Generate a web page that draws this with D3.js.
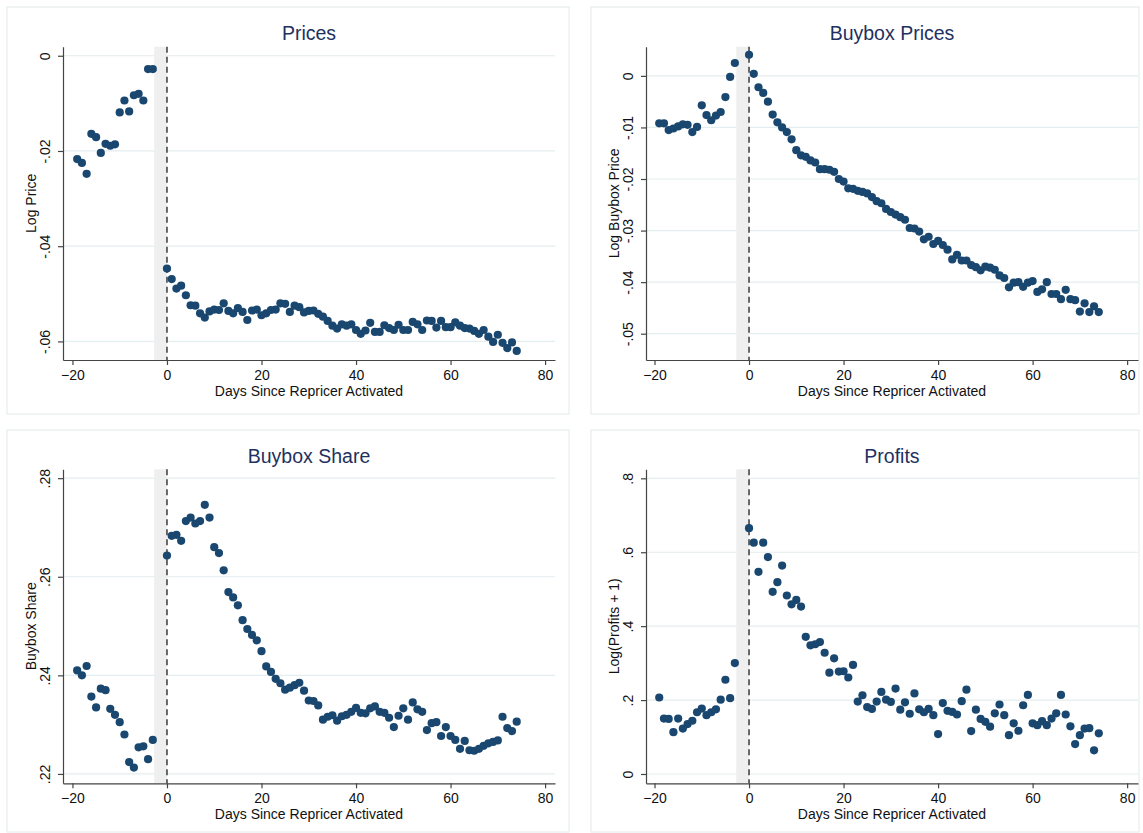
<!DOCTYPE html>
<html>
<head>
<meta charset="utf-8">
<script src="https://cdn.jsdelivr.net/npm/d3@7"></script>
<style>
  body { margin: 0; background: #fff; }
  svg { display: block; font-family: "Liberation Sans", Arial, Helvetica, sans-serif; }
</style>
</head>
<body>
<svg width="1143" height="833"></svg>
<script>
// days relative to repricer activation (days -2 and -1 are not shown)
const preDays = d3.range(-19, -2)
const postDays = d3.range(0, 75)
const days = preDays.concat(postDays)

const xTicks = [-20, 0, 20, 40, 60, 80]

const prices = [
  -0.0217, -0.0225, -0.0248, -0.0164, -0.0171, -0.0204, -0.0185, -0.0189, -0.0186, -0.0119,
  -0.0094, -0.0117, -0.0083, -0.0080, -0.0094, -0.0028, -0.0028,
  -0.0447, -0.0469, -0.0489, -0.0483, -0.0503, -0.0524, -0.0525, -0.0541, -0.0550, -0.0537,
  -0.0533, -0.0534, -0.0520, -0.0536, -0.0541, -0.0530, -0.0538, -0.0555, -0.0535, -0.0533,
  -0.0545, -0.0541, -0.0534, -0.0533, -0.0520, -0.0521, -0.0538, -0.0525, -0.0528, -0.0539,
  -0.0536, -0.0535, -0.0542, -0.0548, -0.0557, -0.0567, -0.0573, -0.0564, -0.0567, -0.0564,
  -0.0576, -0.0584, -0.0577, -0.0561, -0.0580, -0.0580, -0.0566, -0.0572, -0.0576, -0.0565,
  -0.0576, -0.0576, -0.0559, -0.0564, -0.0576, -0.0556, -0.0557, -0.0571, -0.0557, -0.0570,
  -0.0570, -0.0560, -0.0567, -0.0572, -0.0573, -0.0578, -0.0584, -0.0576, -0.0590, -0.0601,
  -0.0586, -0.0603, -0.0614, -0.0602, -0.0620
]

const buyboxPrices = [
  -0.0092, -0.0092, -0.0105, -0.0102, -0.0098, -0.0094, -0.0095, -0.0109, -0.0099, -0.0057,
  -0.0076, -0.0086, -0.0077, -0.0070, -0.0041, -0.0002, 0.0025,
  0.0041, 0.0004, -0.0022, -0.0033, -0.0050, -0.0075, -0.0090, -0.0100, -0.0109, -0.0123,
  -0.0144, -0.0154, -0.0157, -0.0164, -0.0168, -0.0181, -0.0181, -0.0182, -0.0186, -0.0200,
  -0.0205, -0.0218, -0.0219, -0.0223, -0.0225, -0.0228, -0.0235, -0.0243, -0.0247, -0.0258,
  -0.0264, -0.0269, -0.0274, -0.0279, -0.0295, -0.0296, -0.0302, -0.0317, -0.0312, -0.0326,
  -0.0320, -0.0328, -0.0337, -0.0356, -0.0347, -0.0358, -0.0358, -0.0367, -0.0371, -0.0377,
  -0.0370, -0.0372, -0.0376, -0.0387, -0.0392, -0.0410, -0.0401, -0.0400, -0.0409, -0.0401,
  -0.0398, -0.0419, -0.0414, -0.0400, -0.0423, -0.0423, -0.0433, -0.0415, -0.0433, -0.0435,
  -0.0457, -0.0441, -0.0458, -0.0447, -0.0458
]

const buyboxShare = [
  0.2410, 0.2400, 0.2419, 0.2357, 0.2335, 0.2373, 0.2370, 0.2332, 0.2320, 0.2305,
  0.2280, 0.2224, 0.2213, 0.2254, 0.2256, 0.2230, 0.2269,
  0.2643, 0.2683, 0.2685, 0.2673, 0.2713, 0.2720, 0.2708, 0.2713, 0.2746, 0.2720,
  0.2660, 0.2648, 0.2613, 0.2569, 0.2558, 0.2542, 0.2512, 0.2494, 0.2482, 0.2471,
  0.2449, 0.2418, 0.2407, 0.2393, 0.2384, 0.2371, 0.2375, 0.2380, 0.2385, 0.2369,
  0.2349, 0.2348, 0.2339, 0.2310, 0.2316, 0.2319, 0.2308, 0.2317, 0.2320, 0.2326,
  0.2334, 0.2324, 0.2323, 0.2333, 0.2337, 0.2326, 0.2324, 0.2314, 0.2295, 0.2318,
  0.2333, 0.2310, 0.2345, 0.2331, 0.2326, 0.2289, 0.2303, 0.2305, 0.2277, 0.2295,
  0.2277, 0.2269, 0.2251, 0.2267, 0.2248, 0.2247, 0.2251, 0.2257, 0.2262, 0.2265,
  0.2268, 0.2316, 0.2293, 0.2287, 0.2306
]

const profits = [
  0.207, 0.150, 0.149, 0.113, 0.150, 0.123, 0.135, 0.144, 0.167, 0.177,
  0.159, 0.167, 0.175, 0.201, 0.255, 0.205, 0.300,
  0.665, 0.626, 0.547, 0.626, 0.587, 0.493, 0.519, 0.564, 0.483, 0.459,
  0.471, 0.453, 0.371, 0.348, 0.351, 0.357, 0.328, 0.274, 0.313, 0.277,
  0.278, 0.261, 0.295, 0.196, 0.213, 0.181, 0.176, 0.196, 0.222, 0.201,
  0.195, 0.231, 0.174, 0.194, 0.163, 0.218, 0.175, 0.167, 0.176, 0.159,
  0.108, 0.192, 0.171, 0.168, 0.161, 0.197, 0.228, 0.116, 0.174, 0.149,
  0.141, 0.128, 0.164, 0.188, 0.159, 0.105, 0.137, 0.117, 0.186, 0.214,
  0.137, 0.132, 0.143, 0.132, 0.150, 0.164, 0.214, 0.161, 0.129, 0.081,
  0.105, 0.123, 0.124, 0.064, 0.110
]

const titles = ['Prices', 'Buybox Prices', 'Buybox Share', 'Profits']
const yLabels = ['Log Price', 'Log Buybox Price', 'Buybox Share', 'Log(Profits + 1)']
const yTicks = [
  [0, -0.02, -0.04, -0.06],
  [0, -0.01, -0.02, -0.03, -0.04, -0.05],
  [0.22, 0.24, 0.26, 0.28],
  [0, 0.2, 0.4, 0.6, 0.8]
]
const yTickLabels = [
  ['0', '-.02', '-.04', '-.06'],
  ['0', '-.01', '-.02', '-.03', '-.04', '-.05'],
  ['.22', '.24', '.26', '.28'],
  ['0', '.2', '.4', '.6', '.8']
]
const series = [prices, buyboxPrices, buyboxShare, profits]

// layout
const yDomains = [[-0.0639, 0.0019], [-0.0551, 0.00566], [0.2181, 0.2818], [-0.0252, 0.8244]]
const cols = [
  { box: [7, 569], plot: [63, 555], xDomain: [-22, 82.1] },
  { box: [591, 1139], plot: [646, 1138], xDomain: [-21.8, 82.3] }
]
const rows = [
  { box: [7, 414], plot: [46.7, 360] },
  { box: [430, 832], plot: [469.3, 783.3] }
]
const markerColor = '#1a476f'
const titleColor = '#1e3160'

const svg = d3.select('svg')

function drawPanel(i) {
  const col = cols[i % 2], row = rows[Math.floor(i / 2)]
  const g = svg.append('g')

  // panel frame
  g.append('rect')
    .attr('x', col.box[0]).attr('y', row.box[0])
    .attr('width', col.box[1] - col.box[0]).attr('height', row.box[1] - row.box[0])
    .attr('fill', '#fff').attr('stroke', '#e4eaec').attr('stroke-width', 1)

  const x = d3.scaleLinear().domain(col.xDomain).range(col.plot)
  const y = d3.scaleLinear().domain(yDomains[i]).range([row.plot[1], row.plot[0]])

  // grid lines
  g.selectAll('.grid')
    .data(yTicks[i])
    .enter()
    .append('line')
    .attr('x1', col.plot[0]).attr('x2', col.plot[1])
    .attr('y1', (d) => y(d)).attr('y2', (d) => y(d))
    .attr('stroke', '#e4edef').attr('stroke-width', 1.2)

  // shaded band before activation
  g.append('rect')
    .attr('x', x(-2.7)).attr('y', row.plot[0])
    .attr('width', x(0) - x(-2.7)).attr('height', row.plot[1] - row.plot[0])
    .attr('fill', '#efefef')

  // activation line
  g.append('line')
    .attr('x1', x(0)).attr('x2', x(0))
    .attr('y1', row.plot[0]).attr('y2', row.plot[1])
    .attr('stroke', '#3a3a3a').attr('stroke-width', 1.5)
    .attr('stroke-dasharray', '6,4')

  // markers
  g.selectAll('.dot')
    .data(days.map((d, k) => [d, series[i][k]]))
    .enter()
    .append('circle')
    .attr('cx', (d) => x(d[0]))
    .attr('cy', (d) => y(d[1]))
    .attr('r', 4.1)
    .attr('fill', markerColor)

  // x axis
  const xAxis = g.append('g')
    .attr('transform', `translate(0,${row.plot[1]})`)
    .call(d3.axisBottom(x).tickValues(xTicks).tickFormat(d3.format('d')).tickSize(5).tickSizeOuter(0).tickPadding(5))
  xAxis.selectAll('text').style('font-size', '14px').attr('fill', '#111')

  // y axis
  const yAxis = g.append('g')
    .attr('transform', `translate(${col.plot[0]},0)`)
    .call(d3.axisLeft(y).tickValues(yTicks[i]).tickFormat((d, k) => yTickLabels[i][k]).tickSize(5).tickSizeOuter(0))
  yAxis.selectAll('text')
    .attr('x', null).attr('dy', null)
    .attr('transform', 'translate(-13,0) rotate(-90)')
    .style('text-anchor', 'middle')
    .style('font-size', '14px')
    .attr('fill', '#111')

  g.selectAll('.domain, .tick line').attr('stroke', '#444').attr('stroke-width', 1.2)

  // titles
  const cx = (col.plot[0] + col.plot[1]) / 2
  g.append('text')
    .attr('x', cx).attr('y', row.box[0] + 32.5)
    .attr('text-anchor', 'middle')
    .style('font-size', '19.5px')
    .attr('fill', titleColor)
    .text(titles[i])

  g.append('text')
    .attr('x', cx).attr('y', row.plot[1] + 36)
    .attr('text-anchor', 'middle')
    .style('font-size', '14px')
    .attr('fill', '#111')
    .text('Days Since Repricer Activated')

  g.append('text')
    .attr('transform', `translate(${col.plot[0] - 27},${(row.plot[0] + row.plot[1]) / 2}) rotate(-90)`)
    .attr('text-anchor', 'middle')
    .style('font-size', '14px')
    .attr('fill', '#111')
    .text(yLabels[i])
}

for (let i = 0; i < 4; i++) drawPanel(i)
</script>
</body>
</html>
